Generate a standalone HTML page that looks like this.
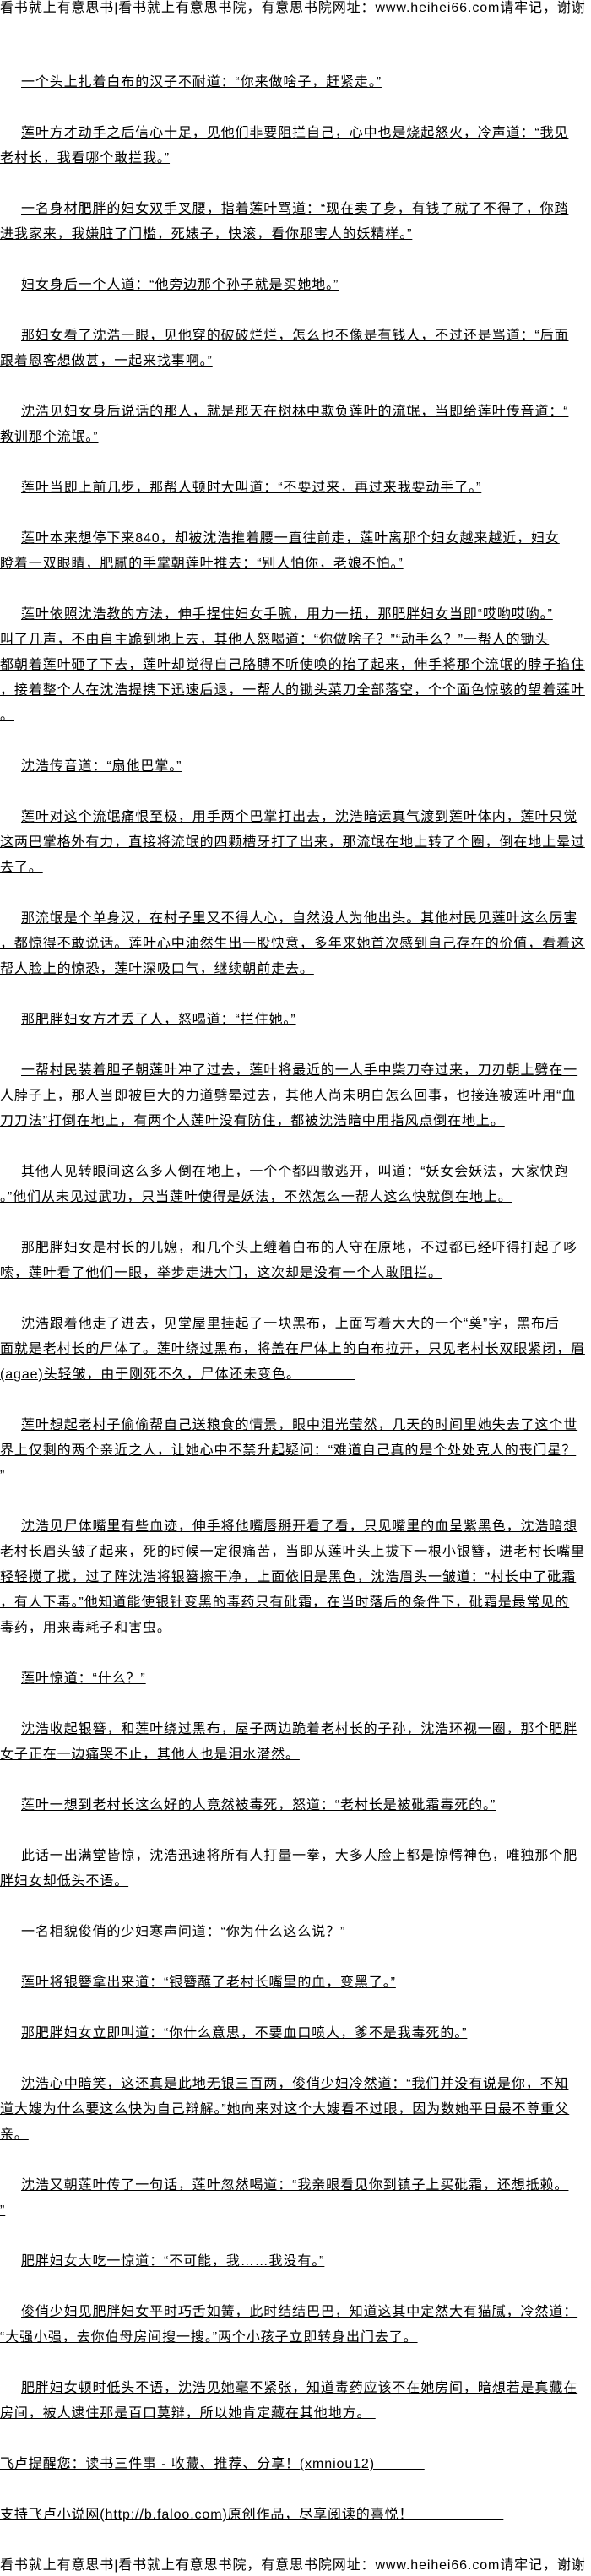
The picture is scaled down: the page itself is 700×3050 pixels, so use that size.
<!DOCTYPE html>
<html><head><meta charset="utf-8">
<style>
html,body{margin:0;padding:0;background:#fff;}
body{width:700px;height:3050px;position:relative;overflow:hidden;color:#000;
font-family:"Liberation Sans","Noto Sans CJK SC","WenQuanYi Zen Hei",sans-serif;font-size:16px;letter-spacing:0.9px;}
.hdr{position:absolute;left:0;top:0;line-height:20px;white-space:nowrap;}
.hdr2{top:3028px;}
#c{position:absolute;left:0;top:83px;width:700px;}
p{margin:0 0 30px 0;line-height:30px;white-space:nowrap;text-decoration:underline;text-indent:25px;}
p.ni{text-indent:0;}
</style></head><body>
<div class="hdr">看书就上有意思书|看书就上有意思书院，有意思书院网址：www.heihei66.com请牢记，谢谢</div>
<div id="c">
<p>一个头上扎着白布的汉子不耐道：“你来做啥子，赶紧走。”</p>
<p>莲叶方才动手之后信心十足，见他们非要阻拦自己，心中也是烧起怒火，冷声道：“我见<br>老村长，我看哪个敢拦我。”</p>
<p>一名身材肥胖的妇女双手叉腰，指着莲叶骂道：“现在卖了身，有钱了就了不得了，你踏<br>进我家来，我嫌脏了门槛，死婊子，快滚，看你那害人的妖精样。”</p>
<p>妇女身后一个人道：“他旁边那个孙子就是买她地。”</p>
<p>那妇女看了沈浩一眼，见他穿的破破烂烂，怎么也不像是有钱人，不过还是骂道：“后面<br>跟着恩客想做甚，一起来找事啊。”</p>
<p>沈浩见妇女身后说话的那人，就是那天在树林中欺负莲叶的流氓，当即给莲叶传音道：“<br>教训那个流氓。”</p>
<p>莲叶当即上前几步，那帮人顿时大叫道：“不要过来，再过来我要动手了。”</p>
<p>莲叶本来想停下来840，却被沈浩推着腰一直往前走，莲叶离那个妇女越来越近，妇女<br>瞪着一双眼睛，肥腻的手掌朝莲叶推去：“别人怕你，老娘不怕。”</p>
<p>莲叶依照沈浩教的方法，伸手捏住妇女手腕，用力一扭，那肥胖妇女当即“哎哟哎哟。”<br>叫了几声，不由自主跪到地上去，其他人怒喝道：“你做啥子？”“动手么？”一帮人的锄头<br>都朝着莲叶砸了下去，莲叶却觉得自己胳膊不听使唤的抬了起来，伸手将那个流氓的脖子掐住<br>，接着整个人在沈浩提携下迅速后退，一帮人的锄头菜刀全部落空，个个面色惊骇的望着莲叶<br>。</p>
<p>沈浩传音道：“扇他巴掌。”</p>
<p>莲叶对这个流氓痛恨至极，用手两个巴掌打出去，沈浩暗运真气渡到莲叶体内，莲叶只觉<br>这两巴掌格外有力，直接将流氓的四颗槽牙打了出来，那流氓在地上转了个圈，倒在地上晕过<br>去了。</p>
<p>那流氓是个单身汉，在村子里又不得人心，自然没人为他出头。其他村民见莲叶这么厉害<br>，都惊得不敢说话。莲叶心中油然生出一股快意，多年来她首次感到自己存在的价值，看着这<br>帮人脸上的惊恐，莲叶深吸口气，继续朝前走去。</p>
<p>那肥胖妇女方才丢了人，怒喝道：“拦住她。”</p>
<p>一帮村民装着胆子朝莲叶冲了过去，莲叶将最近的一人手中柴刀夺过来，刀刃朝上劈在一<br>人脖子上，那人当即被巨大的力道劈晕过去，其他人尚未明白怎么回事，也接连被莲叶用“血<br>刀刀法”打倒在地上，有两个人莲叶没有防住，都被沈浩暗中用指风点倒在地上。</p>
<p>其他人见转眼间这么多人倒在地上，一个个都四散逃开，叫道：“妖女会妖法，大家快跑<br>。”他们从未见过武功，只当莲叶使得是妖法，不然怎么一帮人这么快就倒在地上。</p>
<p>那肥胖妇女是村长的儿媳，和几个头上缠着白布的人守在原地，不过都已经吓得打起了哆<br>嗦，莲叶看了他们一眼，举步走进大门，这次却是没有一个人敢阻拦。</p>
<p>沈浩跟着他走了进去，见堂屋里挂起了一块黑布，上面写着大大的一个“奠”字，黑布后<br>面就是老村长的尸体了。莲叶绕过黑布，将盖在尸体上的白布拉开，只见老村长双眼紧闭，眉<br>(agae)头轻皱，由于刚死不久，尸体还未变色。&nbsp;&nbsp;&nbsp;&nbsp;&nbsp;&nbsp;&nbsp;&nbsp;&nbsp;&nbsp;&nbsp;&nbsp;</p>
<p>莲叶想起老村子偷偷帮自己送粮食的情景，眼中泪光莹然，几天的时间里她失去了这个世<br>界上仅剩的两个亲近之人，让她心中不禁升起疑问：“难道自己真的是个处处克人的丧门星？<br>”</p>
<p>沈浩见尸体嘴里有些血迹，伸手将他嘴唇掰开看了看，只见嘴里的血呈紫黑色，沈浩暗想<br>老村长眉头皱了起来，死的时候一定很痛苦，当即从莲叶头上拔下一根小银簪，进老村长嘴里<br>轻轻搅了搅，过了阵沈浩将银簪擦干净，上面依旧是黑色，沈浩眉头一皱道：“村长中了砒霜<br>，有人下毒。”他知道能使银针变黑的毒药只有砒霜，在当时落后的条件下，砒霜是最常见的<br>毒药，用来毒耗子和害虫。</p>
<p>莲叶惊道：“什么？”</p>
<p>沈浩收起银簪，和莲叶绕过黑布，屋子两边跪着老村长的子孙，沈浩环视一圈，那个肥胖<br>女子正在一边痛哭不止，其他人也是泪水潸然。</p>
<p>莲叶一想到老村长这么好的人竟然被毒死，怒道：“老村长是被砒霜毒死的。”</p>
<p>此话一出满堂皆惊，沈浩迅速将所有人打量一拳，大多人脸上都是惊愕神色，唯独那个肥<br>胖妇女却低头不语。</p>
<p>一名相貌俊俏的少妇寒声问道：“你为什么这么说？”</p>
<p>莲叶将银簪拿出来道：“银簪蘸了老村长嘴里的血，变黑了。”</p>
<p>那肥胖妇女立即叫道：“你什么意思，不要血口喷人，爹不是我毒死的。”</p>
<p>沈浩心中暗笑，这还真是此地无银三百两，俊俏少妇冷然道：“我们并没有说是你，不知<br>道大嫂为什么要这么快为自己辩解。”她向来对这个大嫂看不过眼，因为数她平日最不尊重父<br>亲。</p>
<p>沈浩又朝莲叶传了一句话，莲叶忽然喝道：“我亲眼看见你到镇子上买砒霜，还想抵赖。<br>”</p>
<p>肥胖妇女大吃一惊道：“不可能，我……我没有。”</p>
<p>俊俏少妇见肥胖妇女平时巧舌如簧，此时结结巴巴，知道这其中定然大有猫腻，冷然道：<br>“大强小强，去你伯母房间搜一搜。”两个小孩子立即转身出门去了。</p>
<p>肥胖妇女顿时低头不语，沈浩见她毫不紧张，知道毒药应该不在她房间，暗想若是真藏在<br>房间，被人逮住那是百口莫辩，所以她肯定藏在其他地方。&nbsp;</p>
<p class="ni">飞卢提醒您：读书三件事 - 收藏、推荐、分享！(xmniou12)&nbsp;&nbsp;&nbsp;&nbsp;&nbsp;&nbsp;&nbsp;&nbsp;&nbsp;&nbsp;&nbsp;</p>
<p class="ni">支持飞卢小说网(http://b.faloo.com)原创作品，尽享阅读的喜悦！&nbsp;&nbsp;&nbsp;&nbsp;&nbsp;&nbsp;&nbsp;&nbsp;&nbsp;&nbsp;&nbsp;&nbsp;&nbsp;&nbsp;&nbsp;&nbsp;&nbsp;&nbsp;&nbsp;&nbsp;</p>
</div>
<div class="hdr hdr2">看书就上有意思书|看书就上有意思书院，有意思书院网址：www.heihei66.com请牢记，谢谢</div>
</body></html>
